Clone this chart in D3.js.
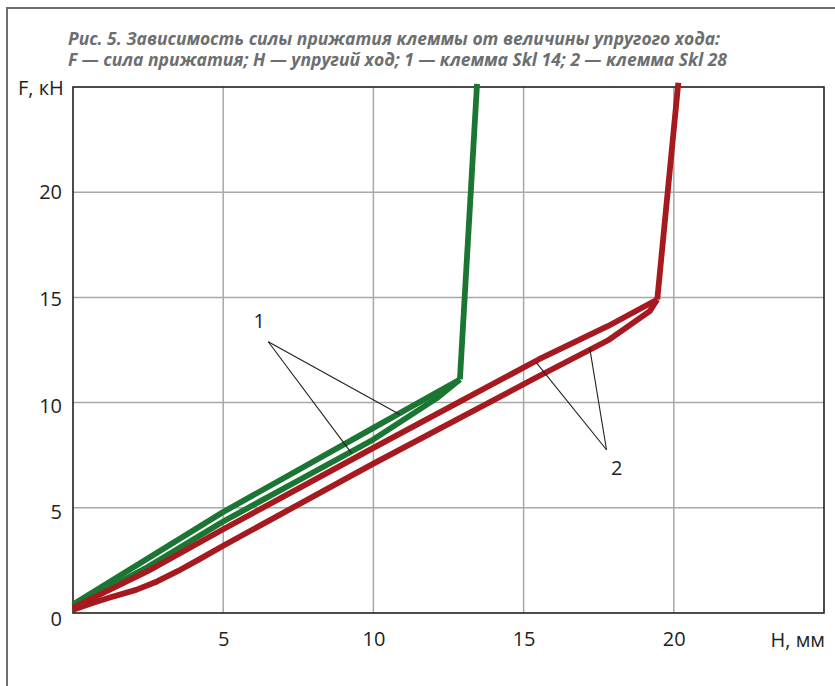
<!DOCTYPE html>
<html>
<head>
<meta charset="utf-8">
<script src="https://cdn.jsdelivr.net/npm/d3@7"></script>
<style>
  html, body { margin: 0; padding: 0; background: #fff; }
  svg { display: block; }
</style>
</head>
<body>
<svg id="chart" width="835" height="686"></svg>
<script>
// Clamp force F (kN) versus elastic travel H (mm)
const titleLines = [
  "Рис. 5. Зависимость силы прижатия клеммы от величины упругого хода:",
  "F — сила прижатия; H — упругий ход; 1 — клемма Skl 14; 2 — клемма Skl 28"
];
const xTicks = [5, 10, 15, 20];
const yTicks = [0, 5, 10, 15, 20];
const xAxisTitle = "Н, мм";
const yAxisTitle = "F, кН";

// Skl 14 (curve 1): loading branch, unloading branch, rigid part
const skl14Upper = [[0, 0.4], [2.5, 2.6], [5, 4.8], [7.5, 6.8], [10, 8.8], [12.88, 11.1]];
const skl14Lower = [[0, 0.3], [2.5, 2.2], [5, 4.35], [7.5, 6.3], [10, 8.25], [12.1, 10.2], [12.88, 11.1]];
const skl14Rigid = [[12.88, 11.1], [13.45, 25.15]];

// Skl 28 (curve 2)
const skl28Upper = [[0, 0.25], [2.5, 2.0], [5, 3.98], [10, 7.85], [15.5, 12.05], [17.8, 13.63], [19.45, 14.9]];
const skl28Lower = [[0, 0.15], [0.6, 0.45], [1.2, 0.72], [2.1, 1.1], [2.8, 1.5], [3.5, 2.0], [4.2, 2.55], [5, 3.2], [10, 7.1], [15.5, 11.25], [17.8, 12.95], [19.2, 14.35], [19.45, 14.9]];
const skl28Rigid = [[19.45, 14.9], [20.15, 25.2]];

// Callouts: label position, apex, and the two branch points they point to
const callout1 = { label: "1", at: [6.2, 13.9], apex: [6.5, 12.89], ends: [[10.88, 9.43], [9.27, 7.6]] };
const callout2 = { label: "2", at: [18.1, 6.9], apex: [17.76, 7.76], ends: [[15.43, 11.89], [17.2, 12.6]] };

const svg = d3.select("#chart");
const W = 835, H = 686;
const plot = { left: 73, right: 824, top: 87, bottom: 613 };

const x = d3.scaleLinear().domain([0, 25]).range([plot.left, plot.right]);
const y = d3.scaleLinear().domain([0, 25]).range([plot.bottom, plot.top]);

const GREEN = "#1c7633";
const RED = "#a6191f";
const GRID = "#a8a8a8";
const INK = "#231f20";

// outer frame
svg.append("path")
  .attr("d", `M7,${H + 5} L7,8 L${W + 5},8`)
  .attr("fill", "none")
  .attr("stroke", "#6e6e6e")
  .attr("stroke-width", 2);

// title
const title = svg.append("g")
  .attr("font-family", "'Open Sans', 'Noto Sans', sans-serif")
  .attr("font-style", "italic")
  .attr("font-weight", 700)
  .attr("font-size", 17)
  .attr("fill", "#6d6e70");
title.append("text").attr("x", 68).attr("y", 45)
  .attr("textLength", 652).attr("lengthAdjust", "spacingAndGlyphs")
  .text(titleLines[0]);
title.append("text").attr("x", 68).attr("y", 66)
  .attr("textLength", 659).attr("lengthAdjust", "spacingAndGlyphs")
  .text(titleLines[1]);

// grid
const grid = svg.append("g").attr("stroke", GRID).attr("stroke-width", 1.5);
grid.selectAll("line.v").data(xTicks).join("line")
  .attr("class", "v")
  .attr("x1", d => x(d)).attr("x2", d => x(d))
  .attr("y1", y(0)).attr("y2", y(25));
grid.selectAll("line.h").data(yTicks.filter(d => d > 0)).join("line")
  .attr("class", "h")
  .attr("x1", x(0)).attr("x2", x(25))
  .attr("y1", d => y(d)).attr("y2", d => y(d));

// plot box
svg.append("rect")
  .attr("x", x(0)).attr("y", y(25))
  .attr("width", x(25) - x(0)).attr("height", y(0) - y(25))
  .attr("fill", "none").attr("stroke", INK).attr("stroke-width", 1.6);

// axis labels through a d3 axis (tick lines hidden)
const font = "'Open Sans', 'Noto Sans', sans-serif";
const xAxis = svg.append("g")
  .attr("transform", `translate(0,${y(0)})`)
  .call(d3.axisBottom(x).tickValues(xTicks).tickSize(0).tickPadding(19));
xAxis.select(".domain").remove();
xAxis.selectAll("text").attr("font-family", font).attr("font-size", 20).attr("fill", INK);

// y labels sit slightly lower towards the bottom of the axis
const yLab = d3.scaleLinear().domain([0, 20]).range([619, 191.7]);
svg.append("g").selectAll("text").data(yTicks).join("text")
  .attr("x", 62).attr("y", d => yLab(d))
  .attr("dy", "0.36em")
  .attr("text-anchor", "end")
  .attr("font-family", font).attr("font-size", 20).attr("fill", INK)
  .text(d => d);

svg.append("text")
  .attr("x", 825).attr("y", 640).attr("dy", "0.36em")
  .attr("text-anchor", "end")
  .attr("font-family", font).attr("font-size", 20).attr("fill", INK)
  .text(xAxisTitle);
svg.append("text")
  .attr("x", 18).attr("y", 88).attr("dy", "0.36em")
  .attr("font-family", font).attr("font-size", 20).attr("fill", INK)
  .text(yAxisTitle);

// curves
const line = d3.line().x(d => x(d[0])).y(d => y(d[1]));
const curves = [
  { pts: skl14Lower, color: GREEN },
  { pts: skl14Upper, color: GREEN },
  { pts: skl14Rigid, color: GREEN },
  { pts: skl28Lower, color: RED },
  { pts: skl28Upper, color: RED },
  { pts: skl28Rigid, color: RED }
];
svg.append("g").selectAll("path").data(curves).join("path")
  .attr("d", d => line(d.pts))
  .attr("fill", "none")
  .attr("stroke", d => d.color)
  .attr("stroke-width", 5.8)
  .attr("stroke-linejoin", "round")
  .attr("stroke-linecap", "butt");

// callouts
[callout1, callout2].forEach(c => {
  const g = svg.append("g");
  c.ends.forEach(e => {
    g.append("line")
      .attr("x1", x(c.apex[0])).attr("y1", y(c.apex[1]))
      .attr("x2", x(e[0])).attr("y2", y(e[1]))
      .attr("stroke", INK).attr("stroke-width", 1.1);
  });
  g.append("text")
    .attr("x", x(c.at[0])).attr("y", y(c.at[1])).attr("dy", "0.36em")
    .attr("text-anchor", "middle")
    .attr("font-family", font).attr("font-size", 20).attr("fill", INK)
    .text(c.label);
});
</script>
</body>
</html>
